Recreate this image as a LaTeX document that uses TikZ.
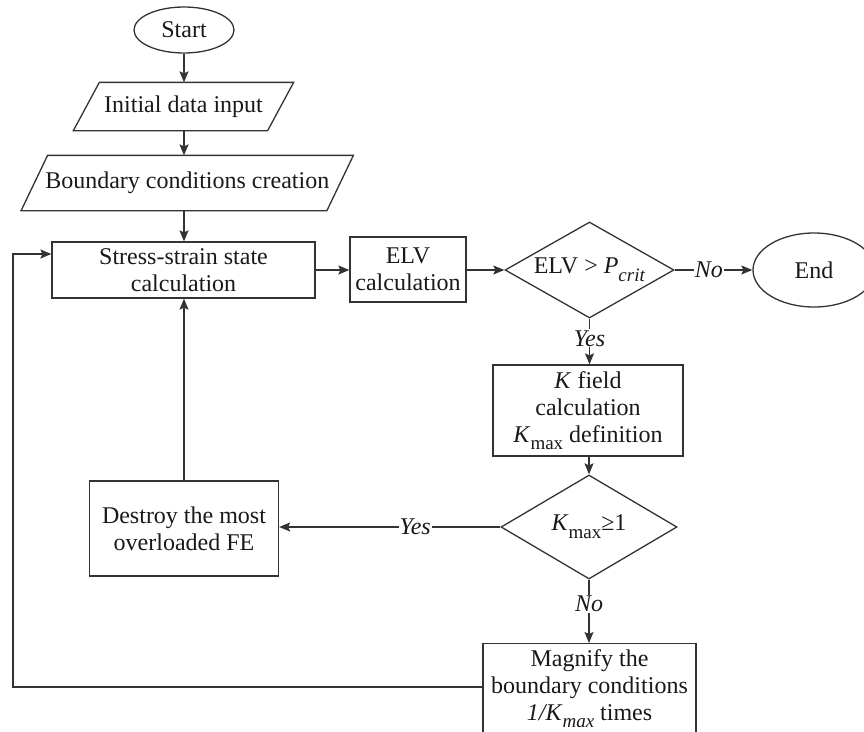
\documentclass[tikz,border=0pt]{standalone}
\usepackage{fontspec}
\setmainfont{Liberation Serif}
\usetikzlibrary{shapes.geometric,arrows.meta,calc}
\newcommand{\lowsub}[1]{\raisebox{-0.32em}{\fontsize{19}{19}\selectfont #1}}
\begin{document}
\begin{tikzpicture}[x=1pt,y=-1pt, line width=1.3pt,
  txt/.style={font=\fontsize{24}{27}\selectfont, text=black!90},
  box/.style={txt, draw=black!80, rectangle, inner sep=0pt, align=center},
  oval/.style={txt, draw=black!80, ellipse, inner sep=0pt},
  dia/.style={txt, draw=black!80, diamond, inner sep=0pt},
  para/.style={txt, inner sep=0pt},
  lbl/.style={font=\fontsize{24}{27}\selectfont\itshape, text=black!90, fill=white, inner sep=1pt},
  arr/.style={draw=black!80, -{Stealth[length=11pt,width=9pt,inset=2pt]}},
  ln/.style={draw=black!80}
]
\useasboundingbox (0,0) rectangle (864,731);

% nodes
\node[oval, minimum width=100, minimum height=46] (start) at (184,30) {Start};
\node[para, minimum width=193, minimum height=47] (init) at (183.5,106.5) {Initial data input};
\draw[ln] ($(init.north west)+(13,0)$) -- ($(init.north east)+(13,0)$) -- ($(init.south east)+(-13,0)$) -- ($(init.south west)+(-13,0)$) -- cycle;
\node[para, minimum width=304.5, minimum height=54] (bc) at (187.25,183) {Boundary conditions creation};
\draw[ln] ($(bc.north west)+(13.25,0)$) -- ($(bc.north east)+(13.25,0)$) -- ($(bc.south east)+(-13.25,0)$) -- ($(bc.south west)+(-13.25,0)$) -- cycle;

\node[box, minimum width=263, minimum height=56] (ss) at (183.5,270) {Stress-strain state\\calculation};
\node[box, minimum width=116, minimum height=65] (elv) at (408,269.5) {ELV\\calculation};
\node[dia, aspect=1.76, minimum width=169, minimum height=96] (d1) at (589.5,270) {ELV > \textit{P}\lowsub{\textit{crit}}};
\node[oval, minimum width=122, minimum height=74] (end) at (814,270) {End};
\node[box, minimum width=190, minimum height=91] (kb) at (588,410.5) {\textit{K} field\\calculation\\\textit{K}\lowsub{max} definition};
\node[dia, aspect=1.69, minimum width=176, minimum height=104] (d2) at (589,527) {\textit{K}\lowsub{max}≥1};
\node[box, minimum width=189, minimum height=95] (de) at (184,528.5) {Destroy the most\\overloaded FE};
\node[box, anchor=north, minimum width=213, minimum height=90] (mag) at (589.5,643) {Magnify the\\boundary conditions\\\textit{1/K}\lowsub{\textit{max}} times};

\coordinate (lpb) at (13,687);
\coordinate (lpt) at (13,254);

% connectors
\draw[arr] (start.south) -- (start.south |- init.north);
\draw[arr] (start.south |- init.south) -- (start.south |- bc.north);
\draw[arr] (start.south |- bc.south) -- (start.south |- ss.north);
\draw[arr] (ss.east) -- (ss.east -| elv.west);
\draw[arr] (elv.east |- d1.west) -- (d1.west);
\draw[arr] (d1.east) -- node[lbl, pos=0.44] {No} (end.west);
\draw[arr] (d1.south) -- node[lbl, pos=0.43] {Yes} (d1.south |- kb.north);
\draw[arr] (d2.south |- kb.south) -- (d2.north);
\draw[arr] (d2.west) -- node[lbl, pos=0.385] {Yes} (d2.west -| de.east);
\draw[arr] (d2.south) -- node[lbl, pos=0.38] {No} (d2.south |- mag.north);
\draw[arr] (de.north) -- (de.north |- ss.south);
\draw[arr] (mag.west |- lpb) -- (lpb) -- (lpt) -- (lpt -| ss.west);
\end{tikzpicture}
\end{document}
